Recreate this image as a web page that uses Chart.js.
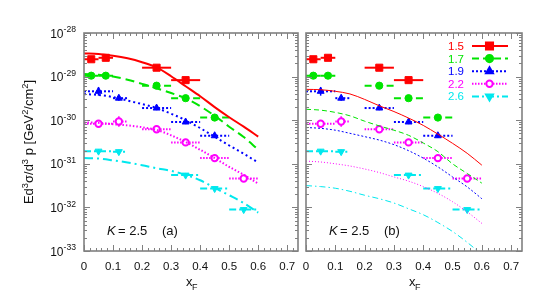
<!DOCTYPE html>
<html>
<head>
<meta charset="utf-8">
<script src="https://cdn.jsdelivr.net/npm/chart.js@4.4.1/dist/chart.umd.min.js"></script>
<style>
  body { margin: 0; background: #fff; width: 538px; height: 290px; position: relative; overflow: hidden; }
  canvas { position: absolute; top: 0; }
  #panelA { left: 0; }
  #panelB { left: 296px; }
</style>
</head>
<body>
<canvas id="panelA" width="304" height="290"></canvas>
<canvas id="panelB" width="242" height="290"></canvas>
<script>
// series (T/Tc values shown in legend)
const seriesNames = ['1.5', '1.7', '1.9', '2.2', '2.6'];
const seriesColors = ['#ff0000', '#00e400', '#0000ff', '#ff00ff', '#00e8ee'];

// measured points: x, y, x-bin low/high, vertical error in dex
const x15 = [0.025, 0.075, 0.25, 0.35];
const y15 = [2.5e-29, 2.7e-29, 1.6e-29, 8.3e-30];
const lo15 = [0, 0.05, 0.2, 0.3];
const hi15 = [0.05, 0.1, 0.3, 0.4];

const x17 = [0.025, 0.075, 0.25, 0.35, 0.45];
const y17 = [1.05e-29, 1.05e-29, 6.2e-30, 3.2e-30, 1.15e-30];
const lo17 = [0, 0.05, 0.2, 0.3, 0.4];
const hi17 = [0.05, 0.1, 0.3, 0.4, 0.5];

const x19 = [0.05, 0.12, 0.25, 0.35, 0.45];
const y19 = [4.6e-30, 3.2e-30, 1.9e-30, 9.1e-31, 4.4e-31];
const lo19 = [0, 0.1, 0.2, 0.3, 0.4];
const hi19 = [0.1, 0.15, 0.3, 0.4, 0.5];
const ye19 = [0.1, 0.06, 0.05, 0.05, 0.05];

const x22 = [0.05, 0.12, 0.25, 0.35, 0.45, 0.55];
const y22 = [8.3e-31, 9.3e-31, 6.2e-31, 3.1e-31, 1.35e-31, 4.6e-32];
const lo22 = [0, 0.1, 0.2, 0.3, 0.4, 0.5];
const hi22 = [0.1, 0.15, 0.3, 0.4, 0.5, 0.6];
const ye22 = [0.05, 0.12, 0.04, 0.04, 0.04, 0.04];

const x26 = [0.05, 0.12, 0.35, 0.45, 0.55];
const y26 = [1.95e-31, 1.9e-31, 5.5e-32, 2.7e-32, 8.9e-33];
const lo26 = [0, 0.1, 0.3, 0.4, 0.5];
const hi26 = [0.1, 0.15, 0.4, 0.5, 0.6];
const ye26 = [0.05, 0.05, 0.05, 0.05, 0.05];

// model curves, sampled on curveX
const curveX = [0, 0.05, 0.1, 0.15, 0.2, 0.25, 0.3, 0.35, 0.4, 0.45, 0.5, 0.55, 0.6];
// panel (a)
const fitA15 = [3.39e-29, 3.31e-29, 3.02e-29, 2.63e-29, 2.14e-29, 1.62e-29, 1.02e-29, 6.0e-30, 3.55e-30, 2.0e-30, 1.17e-30, 7.1e-31, 4.2e-31];
const fitA17 = [1.15e-29, 1.10e-29, 1.0e-29, 8.5e-30, 6.8e-30, 5.4e-30, 4.2e-30, 3.16e-30, 2.1e-30, 1.26e-30, 7.1e-31, 4.1e-31, 2.1e-31];
const fitA19 = [3.98e-30, 3.8e-30, 3.39e-30, 2.82e-30, 2.34e-30, 1.9e-30, 1.41e-30, 1.0e-30, 6.6e-31, 4.17e-31, 2.63e-31, 1.7e-31, 1.07e-31];
const fitA22 = [8.9e-31, 8.7e-31, 8.1e-31, 7.6e-31, 6.9e-31, 6.0e-31, 4.5e-31, 3.16e-31, 2.1e-31, 1.35e-31, 8.5e-32, 5.6e-32, 3.5e-32];
const fitA26 = [1.35e-31, 1.32e-31, 1.2e-31, 1.07e-31, 9.3e-32, 7.9e-32, 6.9e-32, 5.6e-32, 4.2e-32, 2.8e-32, 1.9e-32, 1.26e-32, 7.6e-33];
// panel (b)
const fitB15 = [5.1e-30, 5.0e-30, 4.6e-30, 4.0e-30, 3.0e-30, 2.14e-30, 1.58e-30, 1.12e-30, 7.6e-31, 4.8e-31, 2.95e-31, 1.74e-31, 9.3e-32];
const fitB17 = [1.78e-30, 1.7e-30, 1.51e-30, 1.26e-30, 9.5e-31, 7.4e-31, 5.9e-31, 4.5e-31, 3.0e-31, 1.9e-31, 1.0e-31, 6.0e-32, 3.6e-32];
const fitB19 = [6.8e-31, 6.5e-31, 5.9e-31, 5.0e-31, 4.2e-31, 3.5e-31, 2.75e-31, 2.0e-31, 1.35e-31, 8.5e-32, 5.0e-32, 2.95e-32, 1.58e-32];
const fitB22 = [1.15e-31, 1.1e-31, 1.0e-31, 8.9e-32, 7.6e-32, 6.3e-32, 5.0e-32, 4.0e-32, 3.0e-32, 2.1e-32, 1.35e-32, 7.9e-33, 4.3e-33];
const fitB26 = [3.16e-32, 3.0e-32, 2.75e-32, 2.34e-32, 1.9e-32, 1.58e-32, 1.26e-32, 9.3e-33, 6.8e-33, 4.5e-33, 2.8e-33, 1.58e-33, 8.3e-34];

// axes
const xTicks = [0, 0.1, 0.2, 0.3, 0.4, 0.5, 0.6, 0.7];
const yTickExp = [-28, -29, -30, -31, -32, -33];
const xMin = 0, xMax = 0.737;
const yMin = 1e-33, yMax = 1e-28;

const FONT = '"Liberation Sans", Arial, sans-serif';

// style per series
const pointStyles = ['rect', 'circle', 'triangle', 'circle', 'triangle'];
const pointRadii = [5, 3.6, 4, 3.2, 4];
const pointRot = [0, 0, 0, 0, 180];
const pointFilled = [true, true, true, false, true];
const barDash = [[], [7, 4], [2, 2], [1.5, 1.5], [7, 3, 2, 3]];

const pts = [
  { x: x15, y: y15, lo: lo15, hi: hi15, ye: null },
  { x: x17, y: y17, lo: lo17, hi: hi17, ye: null },
  { x: x19, y: y19, lo: lo19, hi: hi19, ye: ye19 },
  { x: x22, y: y22, lo: lo22, hi: hi22, ye: ye22 },
  { x: x26, y: y26, lo: lo26, hi: hi26, ye: ye26 }
];

function toXY(xs, ys) {
  return xs.map((x, i) => ({ x: x, y: ys[i] }));
}

// draw text with super/subscript parts: [[text, 'n'|'sup'|'sub'], ...]
function richWidth(ctx, parts, size) {
  let w = 0;
  parts.forEach(p => {
    ctx.font = (p[1] === 'n' ? size : size * 0.72) + 'px ' + FONT;
    w += ctx.measureText(p[0]).width;
  });
  return w;
}
function drawRich(ctx, parts, x, y, size) {
  let cx = x;
  parts.forEach(p => {
    let s = p[1] === 'n' ? size : size * 0.72;
    let dy = p[1] === 'sup' ? -size * 0.42 : (p[1] === 'sub' ? size * 0.3 : 0);
    ctx.font = s + 'px ' + FONT;
    ctx.fillText(p[0], cx, y + dy);
    cx += ctx.measureText(p[0]).width;
  });
}

function drawMarker(ctx, i, x, y) {
  ctx.save();
  ctx.setLineDash([]);
  Chart.helpers.drawPoint(ctx, {
    pointStyle: pointStyles[i],
    radius: pointRadii[i],
    rotation: pointRot[i],
    borderWidth: pointFilled[i] ? 1 : 2
  }, x, y);
  ctx.restore();
}

function makeDecor(opts) {
  return {
    id: 'decor',
    beforeDatasetsDraw(chart) {
      const { ctx, scales: { x, y } } = chart;
      ctx.save();
      ctx.lineWidth = 2;
      pts.forEach((s, i) => {
        ctx.strokeStyle = seriesColors[i];
        ctx.setLineDash(barDash[i]);
        s.x.forEach((xv, j) => {
          const py = y.getPixelForValue(s.y[j]);
          ctx.beginPath();
          ctx.moveTo(x.getPixelForValue(s.lo[j]), py);
          ctx.lineTo(x.getPixelForValue(s.hi[j]), py);
          ctx.stroke();
          if (s.ye) {
            const px = x.getPixelForValue(xv);
            const f = Math.pow(10, s.ye[j]);
            ctx.beginPath();
            ctx.setLineDash([]);
            ctx.lineWidth = 1.5;
            ctx.moveTo(px, y.getPixelForValue(s.y[j] * f));
            ctx.lineTo(px, y.getPixelForValue(s.y[j] / f));
            ctx.stroke();
            ctx.lineWidth = 2;
            ctx.setLineDash(barDash[i]);
          }
        });
      });
      ctx.restore();
    },
    afterDraw(chart) {
      const { ctx, chartArea: a, scales: { x, y } } = chart;
      ctx.save();
      ctx.strokeStyle = '#808080';
      ctx.lineWidth = 1;
      ctx.beginPath();
      // x ticks (major 0.1, minor 0.02), inward, top and bottom
      for (let k = 0; k <= 36; k++) {
        const v = k * 0.02;
        if (v > xMax) break;
        const px = Math.round(x.getPixelForValue(v)) + 0.5;
        const len = k % 5 === 0 ? 6 : 3;
        ctx.moveTo(px, a.bottom); ctx.lineTo(px, a.bottom - len);
        ctx.moveTo(px, a.top); ctx.lineTo(px, a.top + len);
      }
      // y ticks, log decades with minors
      yTickExp.forEach(e => {
        for (let m = 1; m <= 9; m++) {
          const v = m * Math.pow(10, e);
          if (v > yMax * 1.0001 || v < yMin * 0.9999) continue;
          const py = Math.round(y.getPixelForValue(v)) + 0.5;
          const len = m === 1 ? 6 : 3;
          ctx.moveTo(a.left, py); ctx.lineTo(a.left + len, py);
          ctx.moveTo(a.right, py); ctx.lineTo(a.right - len, py);
        }
      });
      ctx.stroke();
      ctx.lineWidth = 1.6;
      ctx.strokeRect(a.left, a.top, a.right - a.left, a.bottom - a.top);

      // x tick labels
      ctx.fillStyle = '#111';
      ctx.font = '11.5px ' + FONT;
      ctx.textAlign = 'center';
      ctx.textBaseline = 'alphabetic';
      xTicks.forEach(v => {
        ctx.fillText(String(v), x.getPixelForValue(v), a.bottom + 19);
      });
      // x title
      const cx = (a.left + a.right) / 2;
      ctx.textAlign = 'left';
      ctx.font = '13px ' + FONT;
      ctx.fillText('x', cx - 5, 286);
      ctx.font = '9px ' + FONT;
      ctx.fillText('F', cx + 1, 290);

      // K = 2.5 (a)
      ctx.font = 'italic 13px ' + FONT;
      ctx.fillText('K', a.left + 23, 235);
      ctx.font = '13px ' + FONT;
      ctx.fillText('= 2.5', a.left + 34, 235);
      ctx.fillText(opts.tag, a.left + 78, 235);

      if (opts.yLabels) {
        yTickExp.forEach(e => {
          const py = y.getPixelForValue(Math.pow(10, e));
          const parts = [['10', 'n'], [String(e), 'sup']];
          const w = richWidth(ctx, parts, 12);
          drawRich(ctx, parts, a.left - 8 - w, py + 4.5, 12);
        });
        ctx.save();
        ctx.translate(33, (a.top + a.bottom) / 2);
        ctx.rotate(-Math.PI / 2);
        const title = [['Ed', 'n'], ['3', 'sup'], ['\u03c3/d', 'n'], ['3', 'sup'], [' p [GeV', 'n'], ['2', 'sup'], ['/cm', 'n'], ['2', 'sup'], [']', 'n']];
        const tw = richWidth(ctx, title, 13);
        drawRich(ctx, title, -tw / 2, 0, 13);
        ctx.restore();
      }

      if (opts.legend) {
        seriesNames.forEach((name, i) => {
          const ly = 46 + 12.6 * i;
          ctx.fillStyle = seriesColors[i];
          ctx.font = '11.5px ' + FONT;
          ctx.textAlign = 'right';
          ctx.fillText(name, 168, ly + 4);
          ctx.strokeStyle = seriesColors[i];
          ctx.lineWidth = 2;
          ctx.setLineDash(barDash[i]);
          ctx.beginPath();
          ctx.moveTo(176, ly); ctx.lineTo(212, ly);
          ctx.stroke();
          ctx.fillStyle = pointFilled[i] ? seriesColors[i] : '#fff';
          drawMarker(ctx, i, 193.5, ly);
        });
      }
      ctx.restore();
    }
  };
}

function makePanel(id, fits, fitWidth, dashes, pad, opts) {
  const datasets = [];
  fits.forEach((f, i) => {
    datasets.push({
      data: toXY(curveX, f),
      borderColor: seriesColors[i],
      borderWidth: fitWidth,
      borderDash: dashes[i],
      pointRadius: 0,
      fill: false,
      cubicInterpolationMode: 'monotone'
    });
  });
  pts.forEach((s, i) => {
    datasets.push({
      data: toXY(s.x, s.y),
      showLine: false,
      pointStyle: pointStyles[i],
      pointRadius: pointRadii[i],
      pointRotation: pointRot[i],
      pointBackgroundColor: pointFilled[i] ? seriesColors[i] : '#fff',
      pointBorderColor: seriesColors[i],
      pointBorderWidth: pointFilled[i] ? 1 : 2,
      clip: false
    });
  });
  new Chart(document.getElementById(id).getContext('2d'), {
    type: 'line',
    data: { datasets: datasets },
    options: {
      responsive: false,
      animation: false,
      events: [],
      layout: { padding: pad },
      plugins: { legend: { display: false }, tooltip: { enabled: false } },
      scales: {
        x: { type: 'linear', min: xMin, max: xMax, display: false },
        y: { type: 'logarithmic', min: yMin, max: yMax, display: false }
      }
    },
    plugins: [makeDecor(opts)]
  });
}

makePanel('panelA', [fitA15, fitA17, fitA19, fitA22, fitA26], 2,
  [[], [9, 5], [2, 3], [1.5, 2], [9, 4, 2, 4]],
  { left: 84, right: 4, top: 33, bottom: 39 },
  { tag: '(a)', yLabels: true, legend: false });

makePanel('panelB', [fitB15, fitB17, fitB19, fitB22, fitB26], 1,
  [[], [5, 3], [2, 2], [1, 2], [6, 3, 1.5, 3]],
  { left: 10, right: 16, top: 33, bottom: 39 },
  { tag: '(b)', yLabels: false, legend: true });
</script>
</body>
</html>
